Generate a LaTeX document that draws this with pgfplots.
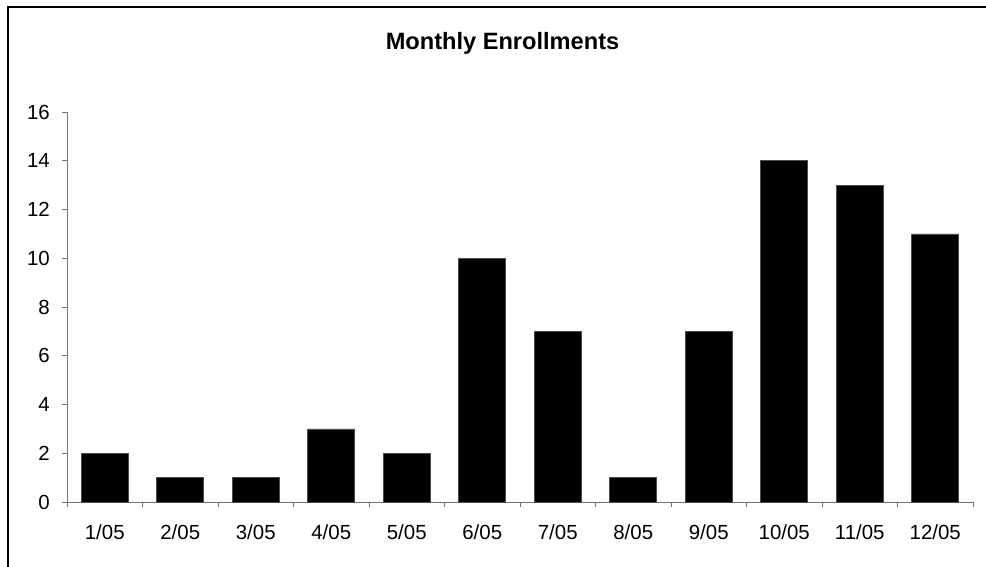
\documentclass[border=0pt]{standalone}
\usepackage{fontspec}
\setmainfont{Liberation Sans}
\usepackage{pgfplots}
\pgfplotsset{compat=1.18}
\begin{document}
\begin{tikzpicture}
\useasboundingbox (0,0) rectangle (986bp,567bp);
\draw[line width=1.6bp] (8bp,0) -- (8bp,560bp) -- (986bp,560bp);
\begin{axis}[
  at={(67bp,65bp)}, anchor=south west,
  scale only axis, width=906bp, height=390bp,
  xmin=-0.5, xmax=11.5, ymin=0, ymax=16,
  axis lines*=left,
  axis line style={black!55, line width=0.9bp},
  ytick={0,2,...,16},
  xtick={0,...,11},
  xticklabels={1/05,2/05,3/05,4/05,5/05,6/05,7/05,8/05,9/05,10/05,11/05,12/05},
  minor xtick={-0.5,0.5,...,11.5},
  every major x tick/.append style={draw=none},
  tick style={black!55, line width=0.9bp},
  tick align=outside,
  major tick length=5bp, minor tick length=5bp,
  /pgf/number format/assume math mode=true,
  tick label style={font=\fontsize{20.5}{24}\selectfont, inner sep=0pt},
  xticklabel style={anchor=north, yshift=-18bp},
  yticklabel style={anchor=east, xshift=-12bp},
  title={\textbf{Monthly Enrollments}},
  title style={at={(0.4807,1)}, anchor=base, yshift=57bp, inner sep=0pt, font=\fontsize{23.7}{28}\selectfont},
  ybar, bar width=47bp,
  clip=false,
]
\addplot[fill=black, draw=black!70, line width=0.6bp] coordinates {
(0,2) (1,1) (2,1) (3,3) (4,2) (5,10) (6,7) (7,1) (8,7) (9,14) (10,13) (11,11)
};
\end{axis}
\end{tikzpicture}
\end{document}
